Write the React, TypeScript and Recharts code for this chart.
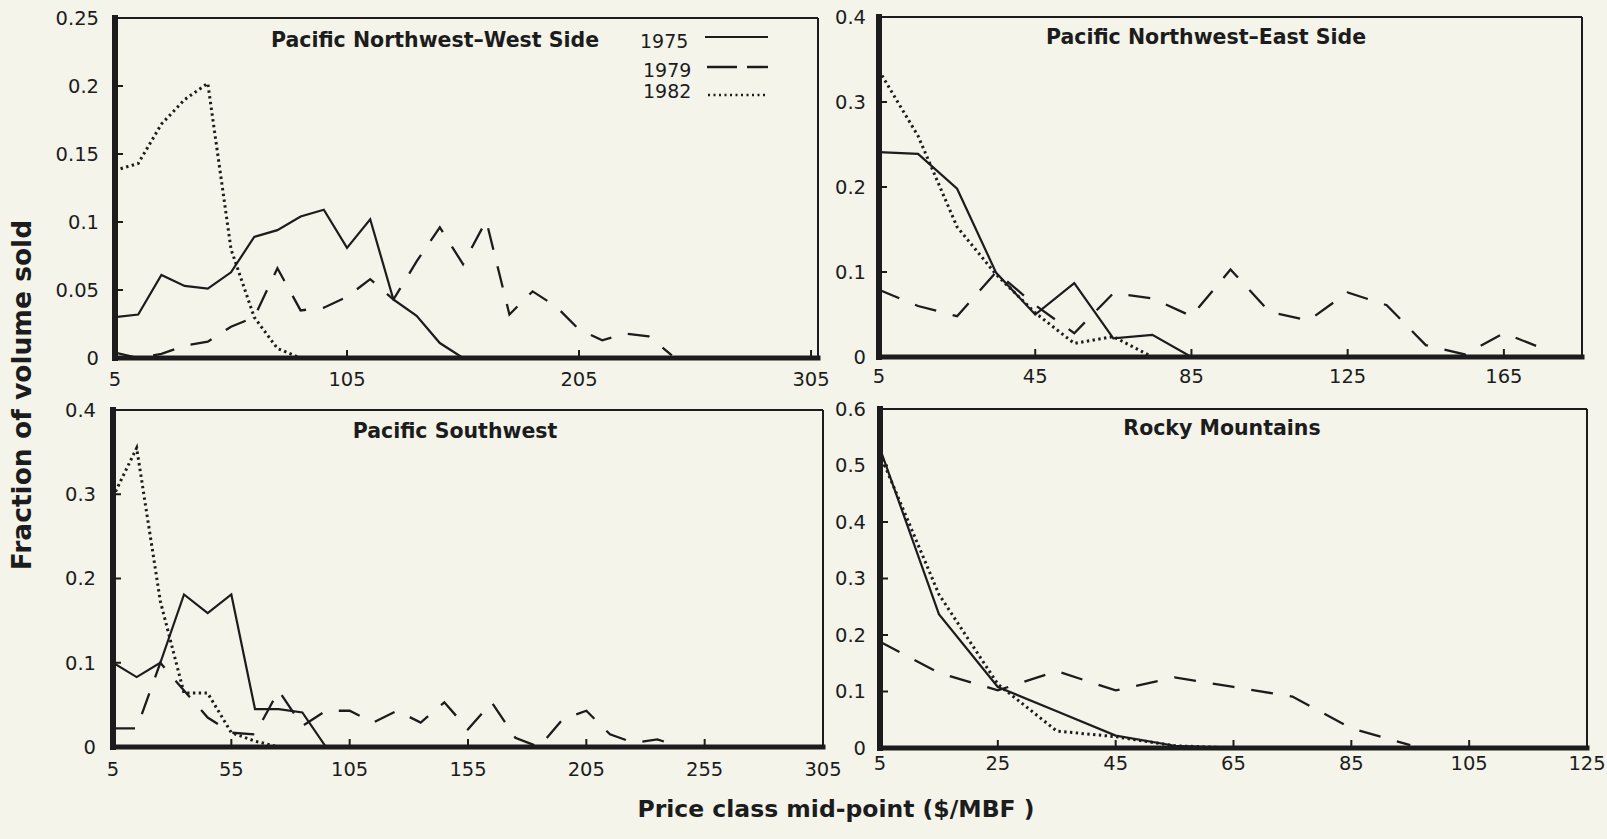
import React from "react";
import { Line, LineChart, ReferenceLine, XAxis, YAxis } from "recharts";

const INK = "#1c1c1c";
const PAPER = "#f4f4ea";
const FONT = "DejaVu Sans, Liberation Sans, Arial, sans-serif";

// Pacific Northwest–West Side (price class mid-points, $/MBF)
const westPrice = [5, 15, 25, 35, 45, 55, 65, 75, 85, 95, 105, 115, 125, 135, 145, 155, 165, 175, 185, 195, 205, 215, 225, 235, 245];
const west1975 = [0.03, 0.032, 0.061, 0.053, 0.051, 0.063, 0.089, 0.094, 0.104, 0.109, 0.081, 0.102, 0.043, 0.031, 0.011, 0];
const west1979 = [0.004, 0, 0.003, 0.009, 0.012, 0.023, 0.03, 0.066, 0.035, 0.037, 0.045, 0.058, 0.043, 0.071, 0.096, 0.069, 0.101, 0.032, 0.049, 0.038, 0.021, 0.013, 0.018, 0.016, 0.002];
const west1982 = [0.138, 0.143, 0.172, 0.19, 0.202, 0.08, 0.03, 0.007, 0];

// Pacific Northwest–East Side
const eastPrice = [5, 15, 25, 35, 45, 55, 65, 75, 85, 95, 105, 115, 125, 135, 145, 155, 165, 175];
const east1975 = [0.241, 0.239, 0.198, 0.099, 0.05, 0.087, 0.022, 0.026, 0];
const east1979 = [0.079, 0.06, 0.048, 0.1, 0.061, 0.028, 0.075, 0.069, 0.048, 0.103, 0.053, 0.043, 0.076, 0.061, 0.014, 0.003, 0.028, 0.01];
const east1982 = [0.337, 0.26, 0.153, 0.097, 0.052, 0.016, 0.024, 0];

// Pacific Southwest
const swPrice = [5, 15, 25, 35, 45, 55, 65, 75, 85, 95, 105, 115, 125, 135, 145, 155, 165, 175, 185, 195, 205, 215, 225, 235, 245];
const sw1975 = [0.1, 0.083, 0.1, 0.181, 0.159, 0.181, 0.045, 0.045, 0.041, 0];
const sw1979 = [0.022, 0.022, 0.1, 0.067, 0.035, 0.017, 0.015, 0.067, 0.025, 0.043, 0.043, 0.029, 0.043, 0.029, 0.053, 0.021, 0.053, 0.011, 0, 0.033, 0.043, 0.015, 0.005, 0.009, 0];
const sw1982 = [0.297, 0.355, 0.173, 0.064, 0.064, 0.017, 0.007, 0];

// Rocky Mountains
const rockyPrice = [5, 15, 25, 35, 45, 55, 65, 75, 85, 95];
const rocky1975 = [0.53, 0.237, 0.108, 0.065, 0.022, 0.004, 0];
const rocky1979 = [0.188, 0.133, 0.102, 0.136, 0.102, 0.125, 0.108, 0.091, 0.035, 0.005];
const rocky1982 = [0.52, 0.272, 0.113, 0.03, 0.02, 0.004, 0];

// axis ticks
const westXTicks = [5, 105, 205, 305];
const westYTicks = [0, 0.05, 0.1, 0.15, 0.2, 0.25];
const eastXTicks = [5, 45, 85, 125, 165];
const swXTicks = [5, 55, 105, 155, 205, 255, 305];
const fourTenthsTicks = [0, 0.1, 0.2, 0.3, 0.4];
const rockyXTicks = [5, 25, 45, 65, 85, 105, 125];
const rockyYTicks = [0, 0.1, 0.2, 0.3, 0.4, 0.5, 0.6];

interface Row {
  x: number;
  y1975: number | null;
  y1979: number | null;
  y1982: number | null;
}

const toRows = (xs: number[], a: number[], b: number[], c: number[]): Row[] =>
  xs.map((x, i) => ({
    x,
    y1975: a[i] ?? null,
    y1979: b[i] ?? null,
    y1982: c[i] ?? null,
  }));

const Y_W = 70;
const M_T = 12;
const M_R = 34; // room for the last x tick label
const X_H = 40;
const TICK_FONT = { fontSize: 19.5, fill: INK, fontFamily: FONT };

interface PanelProps {
  left: number;
  top: number;
  plotW: number;
  plotH: number;
  rows: Row[];
  xDomain: [number, number];
  xTicks: number[];
  yDomain: [number, number];
  yTicks: number[];
  xGap: number;
  yGap: number;
}

const Panel: React.FC<PanelProps> = (p) => (
  <div style={{ position: "absolute", left: p.left - Y_W, top: p.top - M_T }}>
    <LineChart
      width={Y_W + p.plotW + M_R}
      height={M_T + p.plotH + X_H}
      data={p.rows}
      margin={{ top: M_T, right: M_R, bottom: 0, left: 0 }}
    >
      <XAxis
        dataKey="x"
        type="number"
        domain={p.xDomain}
        ticks={p.xTicks}
        interval={0}
        allowDataOverflow
        height={X_H}
        tickSize={-8}
        tickMargin={8 + p.xGap}
        axisLine={{ stroke: INK, strokeWidth: 5, strokeLinecap: "square" }}
        tickLine={{ stroke: INK, strokeWidth: 2 }}
        tick={TICK_FONT}
      />
      <YAxis
        type="number"
        domain={p.yDomain}
        ticks={p.yTicks}
        interval={0}
        allowDataOverflow
        width={Y_W}
        tickSize={-8}
        tickMargin={8 + p.yGap}
        axisLine={{ stroke: INK, strokeWidth: 6, strokeLinecap: "square" }}
        tickLine={{ stroke: INK, strokeWidth: 2 }}
        tick={TICK_FONT}
      />
      <ReferenceLine y={p.yDomain[1]} stroke={INK} strokeWidth={2} ifOverflow="visible" />
      <ReferenceLine x={p.xDomain[1]} stroke={INK} strokeWidth={2} ifOverflow="visible" />
      <Line type="linear" dataKey="y1975" stroke={INK} strokeWidth={2.2} dot={false} isAnimationActive={false} />
      <Line type="linear" dataKey="y1979" stroke={INK} strokeWidth={2.3} strokeDasharray="22 17" dot={false} isAnimationActive={false} />
      <Line type="linear" dataKey="y1982" stroke={INK} strokeWidth={3} strokeDasharray="2.4 3.4" dot={false} isAnimationActive={false} />
    </LineChart>
  </div>
);

const App: React.FC = () => {
  return (
    <div
      style={{
        position: "absolute",
        left: 0,
        top: 0,
        width: 1607,
        height: 839,
        background: PAPER,
        overflow: "hidden",
      }}
    >
      <Panel
        left={115}
        top={18}
        plotW={703}
        plotH={340}
        rows={toRows(westPrice, west1975, west1979, west1982)}
        xDomain={[5, 308]}
        xTicks={westXTicks}
        yDomain={[0, 0.25]}
        yTicks={westYTicks}
        xGap={14}
        yGap={16}
      />
      <Panel
        left={879}
        top={17}
        plotW={703}
        plotH={340}
        rows={toRows(eastPrice, east1975, east1979, east1982)}
        xDomain={[5, 185]}
        xTicks={eastXTicks}
        yDomain={[0, 0.4]}
        yTicks={fourTenthsTicks}
        xGap={12}
        yGap={13}
      />
      <Panel
        left={113}
        top={410}
        plotW={710}
        plotH={337}
        rows={toRows(swPrice, sw1975, sw1979, sw1982)}
        xDomain={[5, 305]}
        xTicks={swXTicks}
        yDomain={[0, 0.4]}
        yTicks={fourTenthsTicks}
        xGap={15}
        yGap={17}
      />
      <Panel
        left={880}
        top={409}
        plotW={707}
        plotH={339}
        rows={toRows(rockyPrice, rocky1975, rocky1979, rocky1982)}
        xDomain={[5, 125]}
        xTicks={rockyXTicks}
        yDomain={[0, 0.6]}
        yTicks={rockyYTicks}
        xGap={8}
        yGap={14}
      />

      {/* titles, legend and axis labels */}
      <svg
        width={1607}
        height={839}
        style={{ position: "absolute", left: 0, top: 0, pointerEvents: "none" }}
        fontFamily={FONT}
        fill={INK}
      >
        <g fontWeight="bold" fontSize={20.5} textAnchor="middle">
          <text x={435} y={46.5}>Pacific Northwest–West Side</text>
          <text x={1206} y={44}>Pacific Northwest–East Side</text>
          <text x={455} y={437.5}>Pacific Southwest</text>
          <text x={1222} y={435}>Rocky Mountains</text>
        </g>

        <g fontSize={19}>
          <text x={640} y={48}>1975</text>
          <text x={643} y={77}>1979</text>
          <text x={643} y={97.5}>1982</text>
        </g>
        <line x1={705} x2={768} y1={37} y2={37} stroke={INK} strokeWidth={2} />
        <line x1={707} x2={768} y1={67} y2={67} stroke={INK} strokeWidth={2.4} strokeDasharray="30 10" />
        <line x1={708} x2={768} y1={95} y2={95} stroke={INK} strokeWidth={2.4} strokeDasharray="2 3.5" />

        <text x={836} y={817} fontSize={23.5} fontWeight="bold" textAnchor="middle">
          Price class mid-point ($/MBF )
        </text>
        <text
          transform="translate(31,395) rotate(-90)"
          fontSize={26.5}
          fontWeight="bold"
          textAnchor="middle"
        >
          Fraction of volume sold
        </text>
      </svg>
    </div>
  );
};

export default App;
